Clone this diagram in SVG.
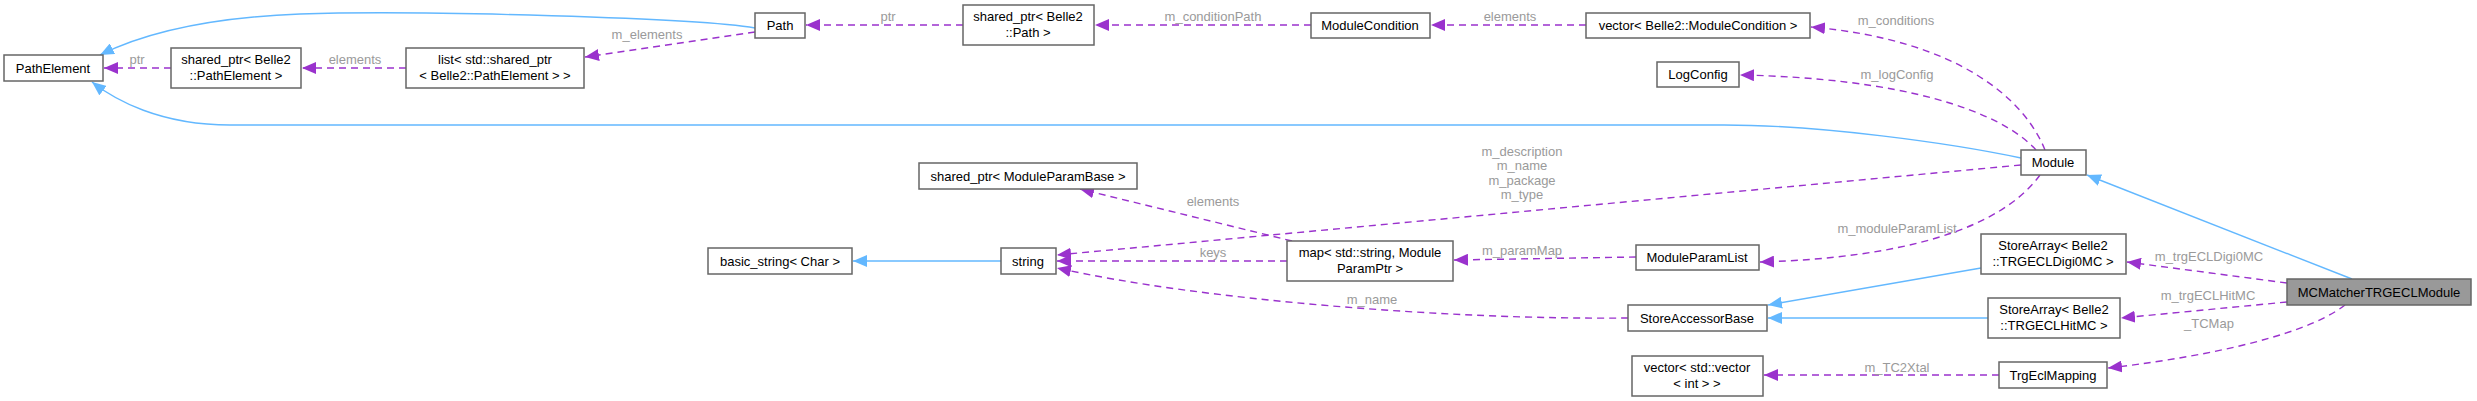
<svg xmlns="http://www.w3.org/2000/svg" width="2477" height="401" viewBox="0 0 2477 401">
<style>
.n rect{fill:#fff;stroke:#666;stroke-width:1.5}
.n text{font-family:"Liberation Sans",Arial,sans-serif;font-size:13px;fill:#000;text-anchor:middle}
.l{font-family:"Liberation Sans",Arial,sans-serif;font-size:13px;fill:#9a9a9a;text-anchor:middle}
.b{fill:none;stroke:#63b8ff;stroke-width:1.4;marker-end:url(#ab)}
.p{fill:none;stroke:#9a32cd;stroke-width:1.4;stroke-dasharray:7,5;marker-end:url(#ap)}
</style>
<defs>
<marker id="ab" markerUnits="userSpaceOnUse" viewBox="0 0 14 12" refX="14" refY="6" markerWidth="14" markerHeight="12" orient="auto"><path d="M0,0L14,6L0,12z" fill="#63b8ff"/></marker>
<marker id="ap" markerUnits="userSpaceOnUse" viewBox="0 0 14 12" refX="14" refY="6" markerWidth="14" markerHeight="12" orient="auto"><path d="M0,0L14,6L0,12z" fill="#9a32cd"/></marker>
</defs>
<rect width="2477" height="401" fill="#fff"/>
<g id="connectors">
<path class="b" d="M755,28 C700,18 420,10 300,14 C200,18 140,35 100,55"/>
<path class="b" d="M2021,158 C1950,143 1820,125 1724,125 L230,125 C160,125 115,100 92,82"/>
<path class="p" d="M171,68 L104,68"/>
<path class="p" d="M406,68 L302,68"/>
<path class="p" d="M755,32 L585,57"/>
<path class="p" d="M963,25 L806,25"/>
<path class="p" d="M1311,25 L1095,25"/>
<path class="p" d="M1586,25 L1431,25"/>
<path class="p" d="M2045,150 C2025,100 1960,40 1811,27"/>
<path class="p" d="M2036,150 C2000,110 1900,78 1740,75"/>
<path class="p" d="M2021,165 L1057,255"/>
<path class="p" d="M1292,241 L1080,189"/>
<path class="p" d="M1287,261 L1057,261"/>
<path class="p" d="M1628,318 C1450,320 1200,300 1057,268"/>
<path class="p" d="M1636,257 L1454,260"/>
<path class="p" d="M2040,175 C2000,230 1900,258 1760,262"/>
<path class="b" d="M1001,261 L853,261"/>
<path class="b" d="M1981,268 L1768,305"/>
<path class="b" d="M1988,318 L1768,318"/>
<path class="b" d="M2352,279 L2087,175"/>
<path class="p" d="M2287,283 L2127,262"/>
<path class="p" d="M2287,302 L2121,318"/>
<path class="p" d="M2345,305 C2300,340 2180,360 2108,368"/>
<path class="p" d="M1999,375 L1764,375"/>
<text class="l" x="137" y="64">ptr</text>
<text class="l" x="355" y="64">elements</text>
<text class="l" x="647" y="39">m_elements</text>
<text class="l" x="888" y="21">ptr</text>
<text class="l" x="1213" y="21">m_conditionPath</text>
<text class="l" x="1510" y="21">elements</text>
<text class="l" x="1896" y="25">m_conditions</text>
<text class="l" x="1897" y="79">m_logConfig</text>
<text class="l" x="1522" y="156">m_description</text>
<text class="l" x="1522" y="170">m_name</text>
<text class="l" x="1522" y="185">m_package</text>
<text class="l" x="1522" y="199">m_type</text>
<text class="l" x="1213" y="206">elements</text>
<text class="l" x="1213" y="257">keys</text>
<text class="l" x="1372" y="304">m_name</text>
<text class="l" x="1522" y="255">m_paramMap</text>
<text class="l" x="1897" y="233">m_moduleParamList</text>
<text class="l" x="2209" y="261">m_trgECLDigi0MC</text>
<text class="l" x="2208" y="300">m_trgECLHitMC</text>
<text class="l" x="2209" y="328">_TCMap</text>
<text class="l" x="1897" y="372">m_TC2Xtal</text>
</g>
<g id="PathElement" class="n"><rect x="4" y="55" width="99" height="26"/><text x="53" y="73">PathElement</text></g>
<g id="sharedPtrPathElement" class="n"><rect x="171" y="48" width="130" height="40"/><text x="236" y="64">shared_ptr&lt; Belle2</text><text x="236" y="80">::PathElement &gt;</text></g>
<g id="listSharedPtr" class="n"><rect x="406" y="48" width="178" height="40"/><text x="495" y="64">list&lt; std::shared_ptr</text><text x="495" y="80">&lt; Belle2::PathElement &gt; &gt;</text></g>
<g id="Path" class="n"><rect x="755" y="13" width="50" height="25"/><text x="780" y="30">Path</text></g>
<g id="sharedPtrPath" class="n"><rect x="963" y="5" width="131" height="40"/><text x="1028" y="21">shared_ptr&lt; Belle2</text><text x="1028" y="37">::Path &gt;</text></g>
<g id="ModuleCondition" class="n"><rect x="1311" y="13" width="119" height="25"/><text x="1370" y="30">ModuleCondition</text></g>
<g id="vectorModuleCondition" class="n"><rect x="1586" y="13" width="224" height="25"/><text x="1698" y="30">vector&lt; Belle2::ModuleCondition &gt;</text></g>
<g id="LogConfig" class="n"><rect x="1657" y="62" width="82" height="25"/><text x="1698" y="79">LogConfig</text></g>
<g id="Module" class="n"><rect x="2021" y="150" width="65" height="25"/><text x="2053" y="167">Module</text></g>
<g id="sharedPtrModuleParamBase" class="n"><rect x="919" y="163" width="218" height="26"/><text x="1028" y="181">shared_ptr&lt; ModuleParamBase &gt;</text></g>
<g id="basicString" class="n"><rect x="708" y="248" width="144" height="26"/><text x="780" y="266">basic_string&lt; Char &gt;</text></g>
<g id="string" class="n"><rect x="1001" y="248" width="55" height="26"/><text x="1028" y="266">string</text></g>
<g id="mapParam" class="n"><rect x="1287" y="241" width="166" height="40"/><text x="1370" y="257">map&lt; std::string, Module</text><text x="1370" y="273">ParamPtr &gt;</text></g>
<g id="ModuleParamList" class="n"><rect x="1636" y="245" width="123" height="25"/><text x="1697" y="262">ModuleParamList</text></g>
<g id="StoreAccessorBase" class="n"><rect x="1628" y="305" width="139" height="26"/><text x="1697" y="323">StoreAccessorBase</text></g>
<g id="vectorVectorInt" class="n"><rect x="1632" y="356" width="131" height="40"/><text x="1697" y="372">vector&lt; std::vector</text><text x="1697" y="388">&lt; int &gt; &gt;</text></g>
<g id="StoreArrayDigi0MC" class="n"><rect x="1981" y="234" width="145" height="40"/><text x="2053" y="250">StoreArray&lt; Belle2</text><text x="2053" y="266">::TRGECLDigi0MC &gt;</text></g>
<g id="StoreArrayHitMC" class="n"><rect x="1988" y="298" width="132" height="40"/><text x="2054" y="314">StoreArray&lt; Belle2</text><text x="2054" y="330">::TRGECLHitMC &gt;</text></g>
<g id="TrgEclMapping" class="n"><rect x="1999" y="362" width="108" height="26"/><text x="2053" y="380">TrgEclMapping</text></g>
<g id="MCMatcherTRGECLModule" class="n"><rect x="2287" y="279" width="184" height="26" style="fill:#999"/><text x="2379" y="297">MCMatcherTRGECLModule</text></g>
</svg>
